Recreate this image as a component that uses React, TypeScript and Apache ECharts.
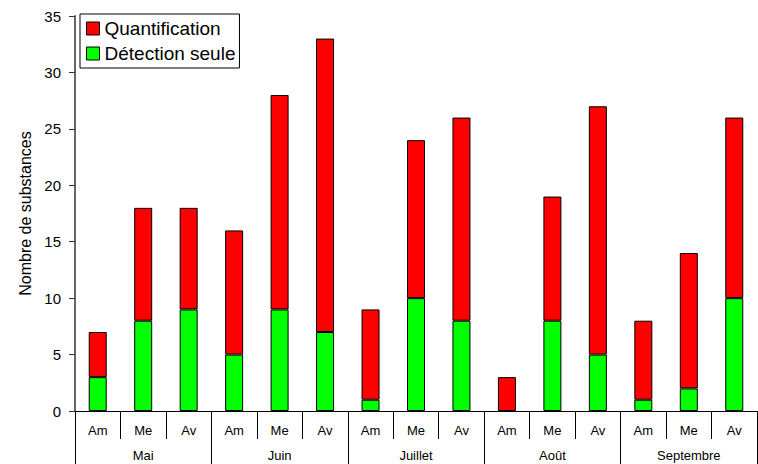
import React, { useEffect, useRef } from "react";
import * as echarts from "echarts";

const subCategories = ["Am", "Me", "Av", "Am", "Me", "Av", "Am", "Me", "Av", "Am", "Me", "Av", "Am", "Me", "Av"];
const months = ["Mai", "Juin", "Juillet", "Août", "Septembre"];
const detection = [3, 8, 9, 5, 9, 7, 1, 10, 8, 0, 8, 5, 1, 2, 10];
const quantification = [4, 10, 9, 11, 19, 26, 8, 14, 18, 3, 11, 22, 7, 12, 16];
const yTicks = { min: 0, max: 35, interval: 5 };

export default function App() {
  const ref = useRef<HTMLDivElement>(null);
  useEffect(() => {
    const chart = echarts.init(ref.current!, null, { renderer: "svg" });
    const font = "Liberation Sans, Arial, sans-serif";
    chart.setOption({
      animation: false,
      textStyle: { fontFamily: font },
      grid: { left: 75, right: 1, top: 16, bottom: 53, containLabel: false },
      legend: {
        orient: "vertical",
        left: 80,
        top: 14,
        icon: "rect",
        itemWidth: 13,
        itemHeight: 13,
        itemGap: 6,
        itemTextGap: 4,
        padding: [5, 4, 5, 6],
        borderColor: "#000",
        borderWidth: 1,
        borderRadius: 0,
        backgroundColor: "#fff",
        textStyle: { fontSize: 19, color: "#000", fontFamily: font },
        data: [
          { name: "Quantification", itemStyle: { borderColor: "#000", borderWidth: 1 } },
          { name: "Détection seule", itemStyle: { borderColor: "#000", borderWidth: 1 } },
        ],
      },
      xAxis: [
        {
          type: "category",
          data: subCategories,
          position: "bottom",
          axisLine: { show: true, lineStyle: { color: "#000", width: 1 } },
          axisTick: { show: true, inside: false, length: 28, interval: 0, lineStyle: { color: "#000" } },
          axisLabel: { interval: 0, margin: 13, fontSize: 13, color: "#000", fontFamily: font },
        },
        {
          type: "category",
          data: months,
          position: "bottom",
          axisLine: { show: false },
          axisTick: { show: true, length: 53, interval: 0, lineStyle: { color: "#000" } },
          axisLabel: { interval: 0, margin: 38, fontSize: 13, color: "#000", fontFamily: font },
        },
      ],
      yAxis: {
        type: "value",
        min: yTicks.min,
        max: yTicks.max,
        interval: yTicks.interval,
        name: "Nombre de substances",
        nameLocation: "middle",
        nameGap: 38,
        nameRotate: 90,
        nameTextStyle: { fontSize: 16, color: "#000", fontFamily: font },
        axisLine: { show: true, lineStyle: { color: "#666", width: 2 } },
        axisTick: { show: true, length: 6, lineStyle: { color: "#333" } },
        axisLabel: { fontSize: 15, color: "#000", margin: 14, fontFamily: font },
        splitLine: { show: false },
      },
      series: [
        {
          name: "Détection seule",
          type: "bar",
          stack: "total",
          data: detection.map((v) => (v === 0 ? "-" : v)),
          barWidth: 18,
          itemStyle: { color: "#00ff00", borderColor: "#000", borderWidth: 1 },
        },
        {
          name: "Quantification",
          type: "bar",
          stack: "total",
          data: quantification,
          barWidth: 18,
          itemStyle: { color: "#ff0000", borderColor: "#000", borderWidth: 1 },
        },
      ],
    });
    return () => chart.dispose();
  }, []);
  return <div ref={ref} style={{ width: 758, height: 464, position: "absolute", left: 0, top: 0 }} />;
}
